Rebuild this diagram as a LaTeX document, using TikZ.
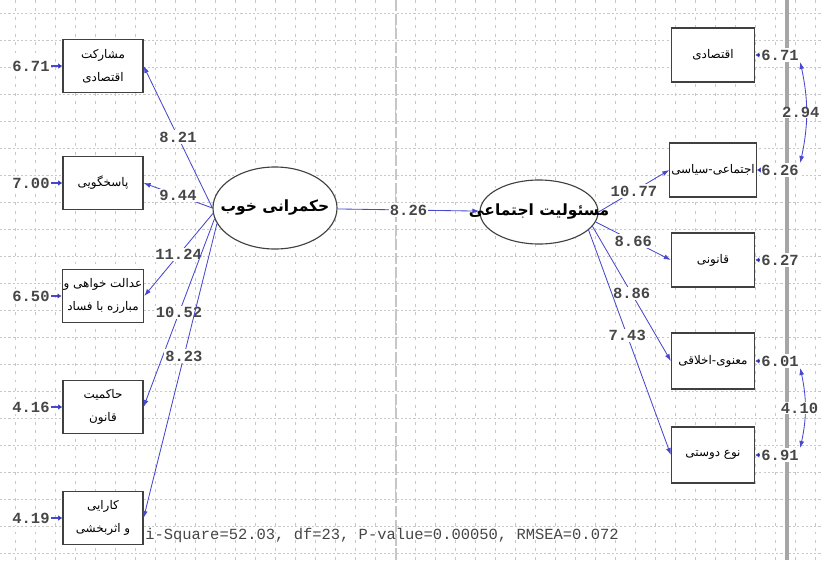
\documentclass[tikz,border=0pt]{standalone}
\usepackage{fontspec}
\usepackage{xcolor}
\usetikzlibrary{arrows.meta,shapes.geometric}
\setmonofont{Liberation Mono}
\newfontfamily\farsi[Script=Arabic]{DejaVu Sans}
\TeXXeTstate=1
\newcommand{\fa}[1]{\beginR #1\endR}
\definecolor{pathblue}{RGB}{72,72,205}
\definecolor{gridgray}{RGB}{200,200,200}
\definecolor{numgray}{RGB}{70,70,70}

\begin{document}
\begin{tikzpicture}[x=0.025cm,y=-0.025cm,
    obs/.style={draw=black!75,line width=0.8pt,fill=white,minimum width=2cm,minimum height=1.32cm,inner sep=1pt,align=center,font=\farsi\fontsize{8.5}{10}\selectfont},
    lat/.style={ellipse,draw=black!75,line width=0.8pt,fill=white,inner sep=0pt},
    lattext/.style={font=\farsi\bfseries\fontsize{11}{13}\selectfont},
    err/.style={inner sep=1pt,text=numgray,fill=white,font=\ttfamily\bfseries\fontsize{11}{13}\selectfont},
    coef/.style={midway,inner sep=1pt,text=numgray,fill=white,font=\ttfamily\bfseries\fontsize{11}{13}\selectfont},
    load/.style={draw=pathblue,line width=0.6pt,-{Latex[length=5pt,width=3.5pt]}},
    errarr/.style={draw=pathblue,line width=1.2pt,-{Latex[length=3pt,width=4pt]}},
    cov/.style={draw=pathblue,line width=0.6pt,{Latex[length=5pt,width=3.5pt]}-{Latex[length=5pt,width=3.5pt]}}]
    \useasboundingbox (0,0) rectangle (821,560);
    % background grid
    \foreach \gy in {13,40,...,553}
      \draw[gridgray,line width=0.4pt,dash pattern=on 1.5pt off 1.5pt] (0,\gy) -- (821,\gy);
    \foreach \gx in {15,35,...,815}
      \draw[gridgray,line width=0.4pt,dash pattern=on 2pt off 4pt] (\gx,0) -- (\gx,560);
    \draw[gray!45,line width=0.8pt,dash pattern=on 8pt off 2pt] (396,0) -- (396,560);
    \draw[gray!70,line width=3pt] (787,0) -- (787,560);

    % indicators of good governance
    \node[obs] (B1) at (103,66) {\fa{مشارکت}\\[6pt]\fa{اقتصادی}};
    \node[obs] (B2) at (103,183) {\fa{پاسخگویی}};
    \node[obs] (B3) at (103,296) {\fa{عدالت خواهی و}\\[6pt]\fa{مبارزه با فساد}};
    \node[obs] (B4) at (103,407) {\fa{حاکمیت}\\[6pt]\fa{قانون}};
    \node[obs] (B5) at (103,518) {\fa{کارایی}\\[6pt]\fa{و اثربخشی}};

    \node[err] (E1) at (31,66) {6.71};
    \node[err] (E2) at (31,183) {7.00};
    \node[err] (E3) at (31,296) {6.50};
    \node[err] (E4) at (31,407) {4.16};
    \node[err] (E5) at (31,518) {4.19};
    \path [errarr] (E1) edge (B1);
    \path [errarr] (E2) edge (B2);
    \path [errarr] (E3) edge (B3);
    \path [errarr] (E4) edge (B4);
    \path [errarr] (E5) edge (B5);

    % latent variables
    \node[lat,minimum width=3.1cm,minimum height=2.05cm] (GG) at (275,208) {};
    \node[lattext] (GGt) at (GG) {\fa{حکمرانی خوب}};
    \node[lat,minimum width=2.95cm,minimum height=1.6cm] (SR) at (539,212) {};
    \node[lattext] (SRt) at (SR) {\fa{مسئولیت اجتماعی}};

    \draw[load] (GG.west) -- node[coef] {8.21} (B1.east);
    \draw[load] (GG.west) -- node[coef] {9.44} (B2.east);
    \draw[load] (GG.185) -- node[coef] {11.24} (B3.east);
    \draw[load] (GG.190) -- node[coef] {10.52} (B4.east);
    \draw[load] (GG.195) -- node[coef,pos=0.45] {8.23} (B5.east);
    \draw[load] (GG) -- node[coef] {8.26} (SR);

    % indicators of social responsibility
    \node[obs,minimum width=2.08cm,minimum height=1.35cm] (R1) at (713,55) {\fa{اقتصادی}};
    \node[obs,minimum width=2.08cm,minimum height=1.35cm] (R2) at (713,170) {\fa{اجتماعی-سیاسی}};
    \node[obs,minimum width=2.08cm,minimum height=1.35cm] (R3) at (713,260) {\fa{قانونی}};
    \node[obs,minimum width=2.08cm,minimum height=1.4cm] (R4) at (713,361) {\fa{معنوی-اخلاقی}};
    \node[obs,minimum width=2.08cm,minimum height=1.4cm] (R5) at (713,455) {\fa{نوع دوستی}};

    \draw[load] (SR.east) -- node[coef] {10.77} (R2.west);
    \draw[load] (SR.-10) -- node[coef] {8.66} (R3.west);
    \draw[load] (SR.-15) -- node[coef] {8.86} (R4.west);
    \draw[load] (SR.-20) -- node[coef,pos=0.47] {7.43} (R5.west);

    \node[err] (F1) at (780,55) {6.71};
    \node[err] (F2) at (780,170) {6.26};
    \node[err] (F3) at (780,260) {6.27};
    \node[err] (F4) at (780,361) {6.01};
    \node[err] (F5) at (780,455) {6.91};
    \path [errarr] (F1) edge (R1);
    \path [errarr] (F2) edge (R2);
    \path [errarr] (F3) edge (R3);
    \path [errarr] (F4) edge (R4);
    \path [errarr] (F5) edge (R5);

    \draw[cov] (F1.south east) to[bend left=12] node[err,midway,inner sep=0.5pt,xshift=-4] {2.94} (F2.north east);
    \draw[cov] (F4.south east) to[bend left=12] node[err,midway,inner sep=0.5pt,xshift=-4] {4.10} (F5.north east);

    \node[anchor=west,inner sep=0pt,text=numgray,font=\ttfamily\fontsize{11}{13}\selectfont] (FIT) at (145,535) {i-Square=52.03, df=23, P-value=0.00050, RMSEA=0.072};
  \end{tikzpicture}
\end{document}
